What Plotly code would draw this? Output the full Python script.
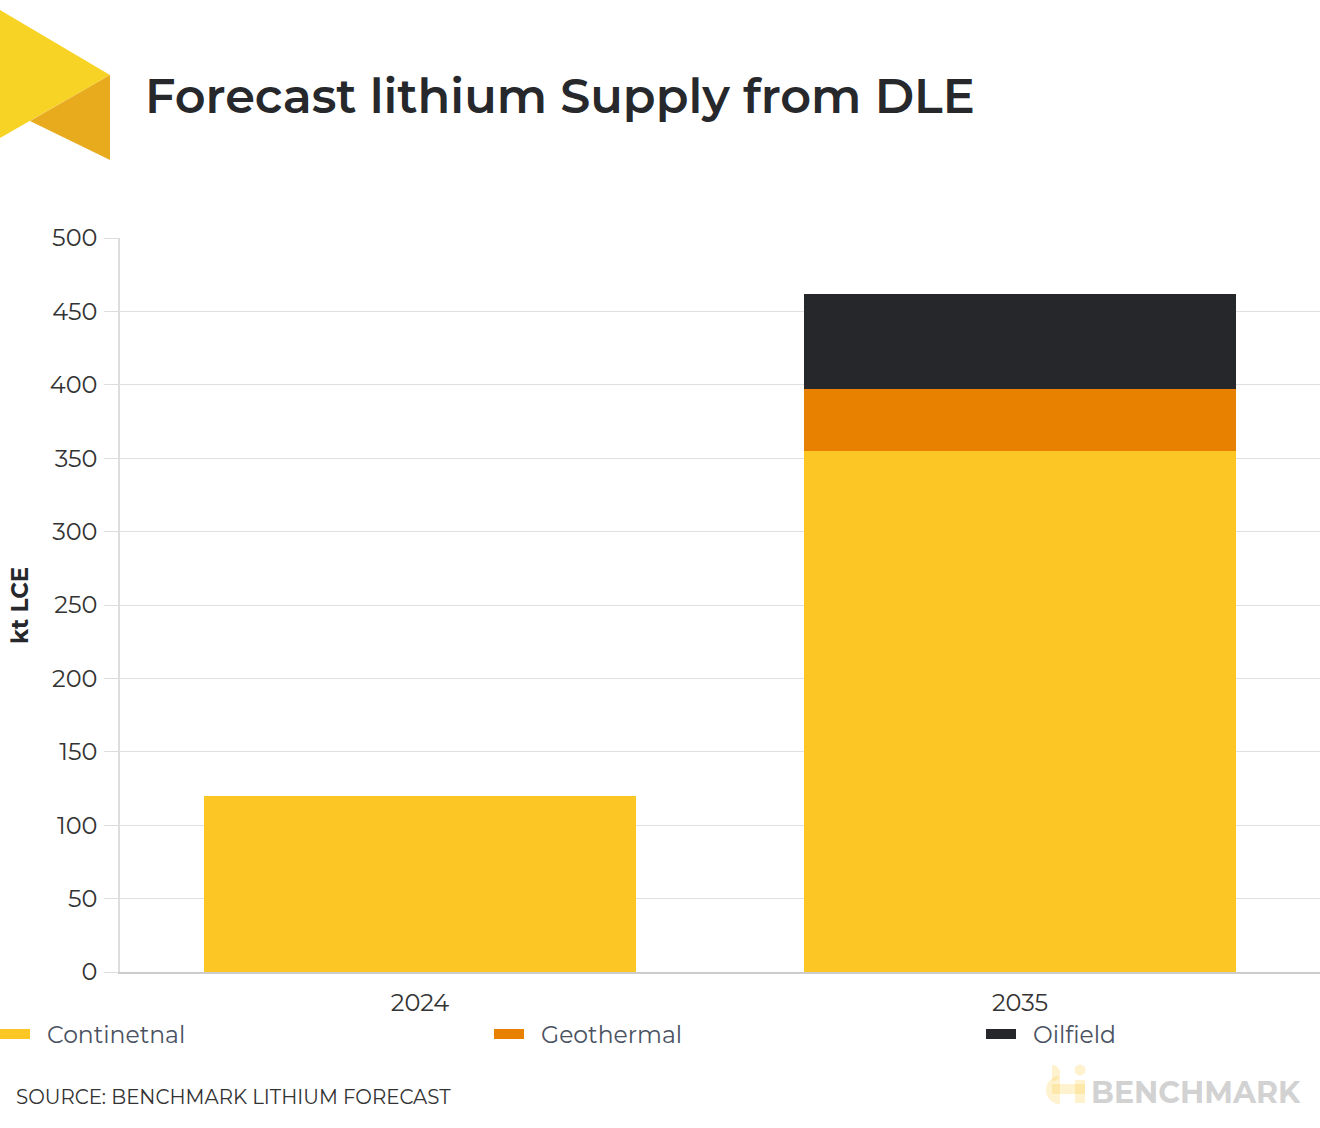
import math
import plotly.graph_objects as go

# ---- data ----
years = ["2024", "2035"]
series_names = ["Continetnal", "Geothermal", "Oilfield"]
continental = [120, 355]
geothermal = [0, 42]
oilfield = [0, 65]
series_values = [continental, geothermal, oilfield]
colors = ["#FCC624", "#E88000", "#26272B"]
y_ticks = [0, 50, 100, 150, 200, 250, 300, 350, 400, 450, 500]

title_text = "Forecast lithium Supply from DLE"
y_title = "kt LCE"
source_text = "SOURCE: BENCHMARK LITHIUM FORECAST"

W, H = 1320, 1128
L, R, T, B = 120, 0, 238, 156
PW, PH = W - L - R, H - T - B


def px(x):
    return (x - L) / PW


def py(y):
    return (H - B - y) / PH


def poly(points):
    return "M " + " L ".join(f"{px(x)},{py(y)}" for x, y in points) + " Z"


def half_disc(cx, cy, r, a0, a1, n=24):
    pts = [(cx, cy)]
    for i in range(n + 1):
        a = math.radians(a0 + (a1 - a0) * i / n)
        pts.append((cx + r * math.cos(a), cy + r * math.sin(a)))
    return poly(pts)


FONT = "Montserrat, Open Sans"

fig = go.Figure()
for name, vals, col in zip(series_names, series_values, colors):
    fig.add_trace(go.Bar(
        x=years, y=vals, name=name, marker=dict(color=col, line=dict(width=0)),
        showlegend=False,
    ))

fig.update_layout(
    width=W, height=H,
    margin=dict(l=L, r=R, t=T, b=B),
    barmode="stack",
    bargap=0.28,
    plot_bgcolor="white",
    paper_bgcolor="white",
    font=dict(family=FONT, color="#333333"),
)

fig.update_yaxes(
    range=[0, 500], tickvals=y_ticks, ticks="outside", ticklen=14, tickcolor="#DDDDDD",
    showgrid=True, gridcolor="#E0E0E0", gridwidth=1.3,
    showline=True, linecolor="#DDDDDD", linewidth=1.5,
    tickfont=dict(size=24, color="#333333"), zeroline=False,
    ticklabelstandoff=2,
)
fig.update_xaxes(
    showline=True, linecolor="#CCCCCC", linewidth=1.5, ticks="",
    tickfont=dict(size=24, color="#333333"), showgrid=False,
    ticklabelstandoff=8,
)

shapes = []
annotations = []

# logo top-left
shapes.append(dict(type="path", xref="paper", yref="paper", layer="above",
                   path=poly([(0, 10), (110, 75), (0, 138)]),
                   fillcolor="#F7D326", line=dict(width=0)))
shapes.append(dict(type="path", xref="paper", yref="paper", layer="above",
                   path=poly([(30, 121), (110, 75), (110, 160)]),
                   fillcolor="#E9AB1E", line=dict(width=0)))

# title
annotations.append(dict(text=title_text, xref="paper", yref="paper",
                        x=px(143), y=py(96), xanchor="left", yanchor="middle",
                        showarrow=False, font=dict(size=47.8, weight=600, color="#26282C")))

# y title
annotations.append(dict(text=f"<b>{y_title}</b>", xref="paper", yref="paper",
                        x=px(20), y=py(606), xanchor="center", yanchor="middle", textangle=-90,
                        showarrow=False, font=dict(size=23, color="#26282C")))

# legend (manual)
leg_x = [0, 494, 986]
for name, col, lx in zip(series_names, colors, leg_x):
    shapes.append(dict(type="rect", xref="paper", yref="paper",
                       x0=px(lx), x1=px(lx + 30), y0=py(1039), y1=py(1029),
                       fillcolor=col, line=dict(width=0)))
    annotations.append(dict(text=name, xref="paper", yref="paper",
                            x=px(lx + 45), y=py(1034), xanchor="left", yanchor="middle",
                            showarrow=False, font=dict(size=23.5, color="#4A5262")))

# source
annotations.append(dict(text=source_text, xref="paper", yref="paper",
                        x=px(14), y=py(1097), xanchor="left", yanchor="middle",
                        showarrow=False, font=dict(size=19.8, color="#333333")))

# benchmark watermark icon
wm = "rgba(252,198,36,0.22)"
for path in [
    half_disc(1052, 1073, 8, -90, 90),          # upper right half disc
    half_disc(1060, 1090, 14, 90, 270),         # lower left half disc
    poly([(1052, 1084), (1085, 1084), (1085, 1094), (1052, 1094)]),  # horizontal band
    poly([(1075, 1080), (1085, 1080), (1085, 1103), (1075, 1103)]),  # vertical bar
    half_disc(1080, 1070, 5.5, 0, 360),         # dot
]:
    shapes.append(dict(type="path", xref="paper", yref="paper", path=path,
                       fillcolor=wm, line=dict(width=0)))
annotations.append(dict(text="<b>BENCHMARK</b>", xref="paper", yref="paper",
                        x=px(1303), y=py(1092), xanchor="right", yanchor="middle",
                        showarrow=False, font=dict(size=30, color="#D2D2D2")))

fig.update_layout(shapes=shapes, annotations=annotations)

fig.write_html("out.html")
